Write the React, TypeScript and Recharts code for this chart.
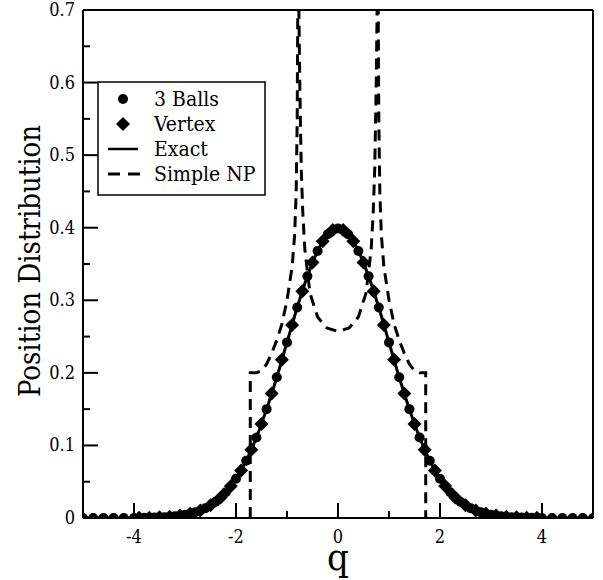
import { ComposedChart, Line, Scatter, XAxis, YAxis } from "recharts"

// 3 Balls (circles)
const ballsQ = [
  -5, -4.8, -4.6, -4.4, -4.2, -4, -3.8, -3.6, -3.4, -3.2, -3, -2.8, -2.6, -2.4, -2.2, -2, -1.8, -1.6, -1.4, -1.2, -1,
  -0.8, -0.6, -0.4, -0.2, 0, 0.2, 0.4, 0.6, 0.8, 1, 1.2, 1.4, 1.6, 1.8, 2, 2.2, 2.4, 2.6, 2.8, 3, 3.2, 3.4, 3.6, 3.8, 4,
  4.2, 4.4, 4.6, 4.8, 5,
]
const ballsY = [
  0, 0, 0, 0, 0.0001, 0.0001, 0.0003, 0.0006, 0.0012, 0.0024, 0.0044, 0.0079, 0.0136, 0.0224, 0.0355, 0.054, 0.079,
  0.111, 0.15, 0.194, 0.242, 0.29, 0.333, 0.368, 0.391, 0.399, 0.391, 0.368, 0.333, 0.29, 0.242, 0.194, 0.15, 0.111,
  0.079, 0.054, 0.0355, 0.0224, 0.0136, 0.0079, 0.0044, 0.0024, 0.0012, 0.0006, 0.0003, 0.0001, 0.0001, 0, 0, 0, 0,
]

// Vertex (diamonds)
const vertexQ = [
  -3.9, -3.7, -3.5, -3.3, -3.1, -2.9, -2.7, -2.5, -2.3, -2.1, -1.9, -1.7, -1.5, -1.3, -1.1, -0.9, -0.7, -0.5, -0.3,
  -0.1, 0.1, 0.3, 0.5, 0.7, 0.9, 1.1, 1.3, 1.5, 1.7, 1.9, 2.1, 2.3, 2.5, 2.7, 2.9, 3.1, 3.3, 3.5, 3.7, 3.9,
]
const vertexY = [
  0.0002, 0.0004, 0.0009, 0.0017, 0.0033, 0.006, 0.0104, 0.0175, 0.0283, 0.044, 0.0656, 0.094, 0.1295, 0.1714,
  0.2179, 0.2661, 0.3123, 0.3521, 0.3814, 0.397, 0.397, 0.3814, 0.3521, 0.3123, 0.2661, 0.2179, 0.1714, 0.1295,
  0.094, 0.0656, 0.044, 0.0283, 0.0175, 0.0104, 0.006, 0.0033, 0.0017, 0.0009, 0.0004, 0.0002,
]

// Exact (solid line)
const exactQ = ballsQ
const exactY = ballsY

// Simple NP (dashed line)
const npQ = [
  -1.72, -1.72, -1.6, -1.5, -1.4, -1.3, -1.2, -1.1, -1, -0.9, -0.85, -0.82, -0.8, -0.785, -0.775, -0.75, -0.72, -0.69,
  -0.65, -0.55, -0.4, -0.22, 0, 0.22, 0.4, 0.55, 0.65, 0.69, 0.72, 0.75, 0.775, 0.785, 0.8, 0.82, 0.85, 0.9, 1, 1.1,
  1.2, 1.3, 1.4, 1.5, 1.6, 1.72, 1.72,
]
const npY = [
  0, 0.2, 0.2, 0.203, 0.212, 0.227, 0.245, 0.267, 0.3, 0.346, 0.39, 0.45, 0.55, 0.75, 0.75, 0.6, 0.48, 0.42, 0.37,
  0.31, 0.277, 0.262, 0.257, 0.262, 0.277, 0.31, 0.37, 0.42, 0.48, 0.6, 0.75, 0.75, 0.55, 0.45, 0.39, 0.346, 0.3,
  0.267, 0.245, 0.227, 0.212, 0.203, 0.2, 0.2, 0,
]

const xTicks = [-5, -4, -3, -2, -1, 0, 1, 2, 3, 4, 5]
const yTicks = [0, 0.05, 0.1, 0.15, 0.2, 0.25, 0.3, 0.35, 0.4, 0.45, 0.5, 0.55, 0.6, 0.65, 0.7]

const toPoints = (qs: number[], ys: number[]) => qs.map((q, i) => ({ q, y: ys[i] }))

const serif = (size: number) => ({ fontFamily: "'DejaVu Serif', serif", fontStretch: "condensed", fontSize: size })

const XTick = ({ x, y, payload, side }: any) => {
  const v = payload.value
  const major = Math.round(v) % 2 === 0
  const len = major ? 15 : 7
  const dir = side === "bottom" ? -1 : 1
  return (
    <g>
      <line x1={x} x2={x} y1={y} y2={y + dir * len} stroke="#000" strokeWidth={2} />
      {side === "bottom" && major && Math.abs(v) < 5 && (
        <text x={x} y={y + 25} textAnchor="middle" style={serif(18)} fill="#000">
          {v}
        </text>
      )}
    </g>
  )
}

const YTick = ({ x, y, payload, side }: any) => {
  const v = payload.value
  const major = Math.abs(v * 10 - Math.round(v * 10)) < 1e-6
  const len = major ? 15 : 7
  const dir = side === "left" ? 1 : -1
  return (
    <g>
      <line x1={x} x2={x + dir * len} y1={y} y2={y} stroke="#000" strokeWidth={2} />
      {side === "left" && major && (
        <text x={x - 8} y={y + 6} textAnchor="end" style={serif(18)} fill="#000">
          {Math.round(v * 10) / 10}
        </text>
      )}
    </g>
  )
}

const Diamond = ({ cx, cy, half }: any) => (
  <polygon points={`${cx},${cy - half} ${cx + half},${cy} ${cx},${cy + half} ${cx - half},${cy}`} fill="#000" />
)

const Dot = ({ cx, cy }: any) => <circle cx={cx} cy={cy} r={5} fill="#000" />

export default function App() {
  const axisLine = { stroke: "#000", strokeWidth: 2 }
  return (
    <div style={{ position: "absolute", left: 0, top: 0, width: 603, height: 580, background: "#fff" }}>
      <ComposedChart width={603} height={580} margin={{ top: 0, right: 0, bottom: 0, left: 0 }}>
        <XAxis
          xAxisId="b"
          dataKey="q"
          type="number"
          domain={[-5, 5]}
          ticks={xTicks}
          interval={0}
          height={62}
          tickSize={0}
          tickMargin={0}
          tickLine={false}
          axisLine={axisLine}
          tick={(p: any) => <XTick x={p.x} y={p.y} payload={p.payload} side="bottom" />}
          allowDataOverflow
        />
        <XAxis
          xAxisId="t"
          orientation="top"
          dataKey="q"
          type="number"
          domain={[-5, 5]}
          ticks={xTicks}
          interval={0}
          height={10}
          tickSize={0}
          tickMargin={0}
          tickLine={false}
          axisLine={axisLine}
          tick={(p: any) => <XTick x={p.x} y={p.y} payload={p.payload} side="top" />}
        />
        <YAxis
          yAxisId="l"
          type="number"
          domain={[0, 0.7]}
          ticks={yTicks}
          interval={0}
          width={83}
          tickSize={0}
          tickMargin={0}
          tickLine={false}
          axisLine={axisLine}
          tick={(p: any) => <YTick x={p.x} y={p.y} payload={p.payload} side="left" />}
          allowDataOverflow
        />
        <YAxis
          yAxisId="r"
          orientation="right"
          type="number"
          domain={[0, 0.7]}
          ticks={yTicks}
          interval={0}
          width={10}
          tickSize={0}
          tickMargin={0}
          tickLine={false}
          axisLine={axisLine}
          tick={(p: any) => <YTick x={p.x} y={p.y} payload={p.payload} side="right" />}
        />
        <Line
          xAxisId="b"
          yAxisId="l"
          data={toPoints(npQ, npY)}
          dataKey="y"
          type="linear"
          stroke="#000"
          strokeWidth={3}
          strokeDasharray="11 7"
          dot={false}
          isAnimationActive={false}
        />
        <Line
          xAxisId="b"
          yAxisId="l"
          data={toPoints(exactQ, exactY)}
          dataKey="y"
          type="monotone"
          stroke="#000"
          strokeWidth={3}
          dot={false}
          isAnimationActive={false}
        />
        <Scatter
          xAxisId="b"
          yAxisId="l"
          data={toPoints(ballsQ, ballsY)}
          dataKey="y"
          shape={(p: any) => <Dot cx={p.cx} cy={p.cy} />}
          isAnimationActive={false}
        />
        <Scatter
          xAxisId="b"
          yAxisId="l"
          data={toPoints(vertexQ, vertexY)}
          dataKey="y"
          shape={(p: any) => <Diamond cx={p.cx} cy={p.cy} half={7} />}
          isAnimationActive={false}
        />
      </ComposedChart>
      <svg width={603} height={580} style={{ position: "absolute", left: 0, top: 0, pointerEvents: "none" }}>
        <text transform="translate(40,261) rotate(-90)" textAnchor="middle" style={serif(29)} fill="#000">
          Position Distribution
        </text>
        <text x={338} y={570} textAnchor="middle" style={serif(38)} fill="#000">
          q
        </text>
        <g style={serif(21)} fill="#000">
          <rect x={98} y={82} width={167} height={113} fill="#fff" stroke="#000" strokeWidth={1.5} />
          <circle cx={123} cy={99} r={5} fill="#000" />
          <text x={154} y={106}>3 Balls</text>
          <Diamond cx={123} cy={124} half={7} />
          <text x={154} y={131}>Vertex</text>
          <line x1={108} x2={138} y1={149} y2={149} stroke="#000" strokeWidth={2.5} />
          <text x={154} y={156}>Exact</text>
          <line x1={108} x2={140} y1={174} y2={174} stroke="#000" strokeWidth={3} strokeDasharray="12 8" />
          <text x={154} y={181}>Simple NP</text>
        </g>
      </svg>
    </div>
  )
}
